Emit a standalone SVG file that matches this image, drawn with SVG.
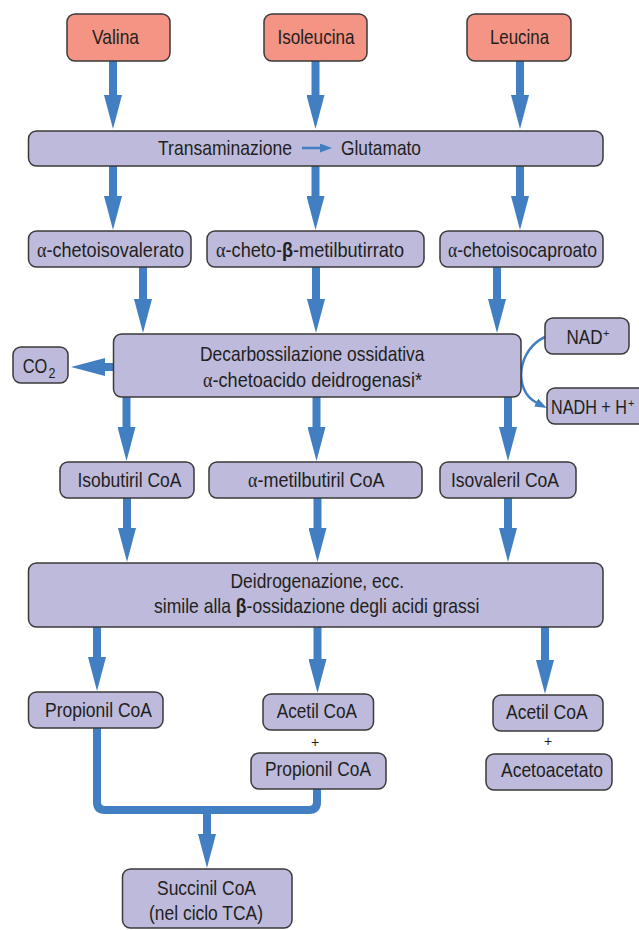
<svg xmlns="http://www.w3.org/2000/svg" width="639" height="930" viewBox="0 0 639 930">
  <defs>
    <style>
      .box { fill: #BDBADC; stroke: #3a3a3a; stroke-width: 1.5; }
      .aa { fill: #F49484; stroke: #3a3a3a; stroke-width: 1.5; }
      .t { font-family: "Liberation Sans", Arial, sans-serif; font-size: 21px; fill: #231F20; }
      .sub { font-family: "Liberation Sans", Arial, sans-serif; font-size: 14px; fill: #231F20; }
      .sup { font-family: "Liberation Sans", Arial, sans-serif; font-size: 11px; fill: #231F20; }
      .g { font-family: "Liberation Serif", "Times New Roman", serif; }
      .b { font-weight: bold; }
      .plus { font-family: "Liberation Sans", Arial, sans-serif; font-size: 14px; fill: #231F20; text-anchor: middle; }
      .flow { stroke: #427EC2; stroke-width: 8; fill: none; marker-end: url(#head); }
      .join { stroke: #427EC2; stroke-width: 8; fill: none; stroke-linejoin: round; }
    </style>
    <marker id="head" markerUnits="userSpaceOnUse" markerWidth="34" markerHeight="18" viewBox="0 0 34 18" refX="1" refY="9" orient="auto">
      <path d="M0,0 L34,9 L0,18 z" fill="#427EC2"/>
    </marker>
    <marker id="thinhead" markerUnits="userSpaceOnUse" markerWidth="12" markerHeight="9" viewBox="0 0 12 9" refX="1" refY="4.5" orient="auto">
      <path d="M0,0 L12,4.5 L0,9 z" fill="#427EC2"/>
    </marker>
  </defs>

  <!-- connectors -->
  <g id="connectors">
    <!-- amino acids to transamination -->
    <line class="flow" x1="113" y1="61" x2="113" y2="96"/>
    <line class="flow" x1="315.5" y1="61" x2="315.5" y2="96"/>
    <line class="flow" x1="520" y1="61" x2="520" y2="96"/>
    <!-- transamination to keto acids -->
    <line class="flow" x1="113" y1="166" x2="113" y2="197"/>
    <line class="flow" x1="315.5" y1="166" x2="315.5" y2="197"/>
    <line class="flow" x1="520" y1="166" x2="520" y2="197"/>
    <!-- keto acids to decarboxylation -->
    <line class="flow" x1="143" y1="267" x2="143" y2="300"/>
    <line class="flow" x1="316" y1="267" x2="316" y2="300"/>
    <line class="flow" x1="497" y1="267" x2="497" y2="300"/>
    <!-- CO2 release -->
    <line class="flow" x1="114" y1="367" x2="104" y2="367"/>
    <!-- NAD+ to NADH + H+ -->
    <path d="M545,337 C518,349 512,390 537,403" stroke="#427EC2" stroke-width="2.5" fill="none" marker-end="url(#thinhead)"/>
    <!-- decarboxylation to acyl CoA -->
    <line class="flow" x1="126.5" y1="397" x2="126.5" y2="428"/>
    <line class="flow" x1="316.5" y1="397" x2="316.5" y2="428"/>
    <line class="flow" x1="508" y1="397" x2="508" y2="428"/>
    <!-- acyl CoA to dehydrogenation -->
    <line class="flow" x1="127" y1="498" x2="127" y2="529"/>
    <line class="flow" x1="317.5" y1="498" x2="317.5" y2="529"/>
    <line class="flow" x1="508" y1="498" x2="508" y2="529"/>
    <!-- dehydrogenation to products -->
    <line class="flow" x1="97" y1="627" x2="97" y2="658"/>
    <line class="flow" x1="317.5" y1="627" x2="317.5" y2="660"/>
    <line class="flow" x1="545" y1="627" x2="545" y2="661"/>
    <!-- propionyl CoA to succinyl CoA -->
    <path class="join" d="M97,728 V802 Q97,810 105,810 H309 Q317,810 317,802 V789"/>
    <line class="flow" x1="207" y1="810" x2="207" y2="835"/>
  </g>

  <!-- amino acids -->
  <g id="valina"><rect class="aa" x="67" y="14" width="103" height="47" rx="8"/><text class="t" x="92" y="44" textLength="47" lengthAdjust="spacingAndGlyphs">Valina</text></g>
  <g id="isoleucina"><rect class="aa" x="264" y="14" width="103" height="47" rx="8"/><text class="t" x="277.5" y="44" textLength="77" lengthAdjust="spacingAndGlyphs">Isoleucina</text></g>
  <g id="leucina"><rect class="aa" x="467" y="14" width="104" height="47" rx="8"/><text class="t" x="490" y="44" textLength="59" lengthAdjust="spacingAndGlyphs">Leucina</text></g>

  <!-- transamination -->
  <g id="transaminazione">
    <rect class="box" x="28.5" y="131" width="574.5" height="35" rx="8"/>
    <text class="t" x="158" y="155" textLength="134" lengthAdjust="spacingAndGlyphs">Transaminazione</text>
    <line x1="302" y1="148" x2="321" y2="148" stroke="#427EC2" stroke-width="2.5" marker-end="url(#thinhead)"/>
    <text class="t" x="341" y="155" textLength="80" lengthAdjust="spacingAndGlyphs">Glutamato</text>
  </g>

  <!-- keto acids -->
  <g id="chetoisovalerato"><rect class="box" x="28.5" y="231" width="162.5" height="36" rx="8"/><text class="t" x="37" y="257" textLength="147" lengthAdjust="spacingAndGlyphs"><tspan class="g">α</tspan>-chetoisovalerato</text></g>
  <g id="chetometilbutirrato"><rect class="box" x="207" y="231" width="217" height="36" rx="8"/><text class="t" x="216" y="257" textLength="188" lengthAdjust="spacingAndGlyphs"><tspan class="g">α</tspan>-cheto-<tspan class="b">β</tspan>-metilbutirrato</text></g>
  <g id="chetoisocaproato"><rect class="box" x="440" y="231" width="163" height="36" rx="8"/><text class="t" x="448" y="257" textLength="149" lengthAdjust="spacingAndGlyphs"><tspan class="g">α</tspan>-chetoisocaproato</text></g>

  <!-- oxidative decarboxylation -->
  <g id="decarbossilazione">
    <rect class="box" x="113.5" y="334" width="407.5" height="63" rx="8"/>
    <text class="t" x="200" y="361" textLength="224.5" lengthAdjust="spacingAndGlyphs">Decarbossilazione ossidativa</text>
    <text class="t" x="203" y="387" textLength="219" lengthAdjust="spacingAndGlyphs"><tspan class="g">α</tspan>-chetoacido deidrogenasi*</text>
  </g>
  <g id="co2">
    <rect class="box" x="13" y="347" width="55" height="36" rx="8"/>
    <text class="t" x="22.7" y="373" textLength="24.6" lengthAdjust="spacingAndGlyphs">CO</text>
    <text class="sub" x="48.5" y="378" textLength="7" lengthAdjust="spacingAndGlyphs">2</text>
  </g>
  <g id="nad">
    <rect class="box" x="545" y="318" width="84" height="36" rx="8"/>
    <text class="t" x="566.5" y="344" textLength="36" lengthAdjust="spacingAndGlyphs">NAD</text>
    <text class="sup" x="603" y="337">+</text>
  </g>
  <g id="nadh">
    <rect class="box" x="547" y="388" width="100" height="36" rx="8"/>
    <text class="t" x="551" y="414" textLength="76" lengthAdjust="spacingAndGlyphs">NADH + H</text>
    <text class="sup" x="628" y="407">+</text>
  </g>

  <!-- acyl CoA -->
  <g id="isobutiril"><rect class="box" x="60" y="462" width="134" height="36" rx="8"/><text class="t" x="77.5" y="487" textLength="104" lengthAdjust="spacingAndGlyphs">Isobutiril CoA</text></g>
  <g id="metilbutiril"><rect class="box" x="209" y="462" width="213" height="36" rx="8"/><text class="t" x="248" y="487" textLength="136.5" lengthAdjust="spacingAndGlyphs"><tspan class="g">α</tspan>-metilbutiril CoA</text></g>
  <g id="isovaleril"><rect class="box" x="440" y="462" width="136" height="36" rx="8"/><text class="t" x="451" y="487" textLength="108" lengthAdjust="spacingAndGlyphs">Isovaleril CoA</text></g>

  <!-- dehydrogenation -->
  <g id="deidrogenazione">
    <rect class="box" x="28.5" y="563" width="574.5" height="64" rx="8"/>
    <text class="t" x="230.5" y="588" textLength="173.5" lengthAdjust="spacingAndGlyphs">Deidrogenazione, ecc.</text>
    <text class="t" x="154" y="613" textLength="325.5" lengthAdjust="spacingAndGlyphs">simile alla <tspan class="b">β</tspan>-ossidazione degli acidi grassi</text>
  </g>

  <!-- products -->
  <g id="propionil1"><rect class="box" x="28.5" y="692" width="134.5" height="36" rx="8"/><text class="t" x="45" y="717" textLength="107" lengthAdjust="spacingAndGlyphs">Propionil CoA</text></g>
  <g id="acetil1"><rect class="box" x="263" y="694" width="110.5" height="36" rx="8"/><text class="t" x="276.7" y="718" textLength="80.4" lengthAdjust="spacingAndGlyphs">Acetil CoA</text></g>
  <text id="plus1" class="plus" x="315" y="747">+</text>
  <g id="propionil2"><rect class="box" x="251" y="753" width="135" height="36" rx="8"/><text class="t" x="265" y="776" textLength="106" lengthAdjust="spacingAndGlyphs">Propionil CoA</text></g>
  <g id="acetil2"><rect class="box" x="493" y="695" width="110" height="36" rx="8"/><text class="t" x="506" y="719" textLength="81.6" lengthAdjust="spacingAndGlyphs">Acetil CoA</text></g>
  <text id="plus2" class="plus" x="548" y="746">+</text>
  <g id="acetoacetato"><rect class="box" x="486" y="754" width="126" height="36" rx="8"/><text class="t" x="501" y="777" textLength="102" lengthAdjust="spacingAndGlyphs">Acetoacetato</text></g>

  <g id="succinil">
    <rect class="box" x="122.5" y="869" width="169.5" height="59" rx="8"/>
    <text class="t" x="157" y="895" textLength="99" lengthAdjust="spacingAndGlyphs">Succinil CoA</text>
    <text class="t" x="149" y="920" textLength="114" lengthAdjust="spacingAndGlyphs">(nel ciclo TCA)</text>
  </g>
</svg>
